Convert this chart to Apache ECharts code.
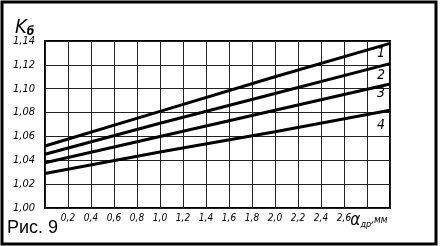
<!DOCTYPE html>
<html><head><meta charset="utf-8">
<script src="https://cdn.jsdelivr.net/npm/echarts@6/dist/echarts.min.js"></script>
<style>html,body{margin:0;padding:0;background:#fff}#c{width:440px;height:246px}</style>
</head><body><div id="c"></div>
<script>
var xValues = [0, 1.0, 2.0, 3.0];
var line1 = [1.052, 1.081, 1.110, 1.138];
var line2 = [1.045, 1.071, 1.096, 1.121];
var line3 = [1.038, 1.060, 1.082, 1.104];
var line4 = [1.029, 1.047, 1.064, 1.082];
var lineNames = ['1', '2', '3', '4'];
var xTickLabels = ['0,2','0,4','0,6','0,8','1,0','1,2','1,4','1,6','1,8','2,0','2,2','2,4','2,6'];
var yTickLabels = ['1,00','1,02','1,04','1,06','1,08','1,10','1,12','1,14'];

var chart = echarts.init(document.getElementById('c'), null, {renderer:'canvas'});
var seriesData = [line1, line2, line3, line4];
var lblFont = 'DejaVu Sans Condensed';
function mk(vals, i) {
  return {
    type: 'line', name: lineNames[i], symbol: 'circle', symbolSize: 0.1, showSymbol: true, silent: true,
    itemStyle: {color: '#000'},
    lineStyle: {color: '#000', width: 3},
    data: vals.map(function (v, k) {
      var d = {value: [xValues[k], v]};
      if (k === vals.length - 1) {
        d.label = {show: true, formatter: lineNames[i], position: 'bottom', distance: [3,5,2,8][i], offset: [-9, 0],
          fontStyle: 'italic', fontFamily: lblFont, fontSize: 14, color: '#000'};
      } else {
        d.label = {show: false};
      }
      return d;
    })
  };
}
chart.setOption({
  animation: false,
  grid: {left: 45, right: 50, top: 41, bottom: 38, show: true, borderColor: '#000', borderWidth: 2},
  xAxis: {
    type: 'value', min: 0, max: 3.0, interval: 0.2,
    axisLine: {show: false}, axisTick: {show: false},
    splitLine: {show: true, lineStyle: {color: '#222', width: 1}},
    axisLabel: {
      margin: 5, color: '#000', fontStyle: 'italic', fontFamily: lblFont, fontSize: 10,
      showMinLabel: true, showMaxLabel: true,
      formatter: function (v) {
        var i = Math.round(v / 0.2);
        if (i >= 1 && i <= xTickLabels.length) return xTickLabels[i - 1];
        if (i === 14) return '{a|α}{s|др}{m|,мм}';
        return '';
      },
      rich: {
        a: {fontSize: 17, fontStyle: 'italic', fontFamily: lblFont, color: '#000', verticalAlign: 'bottom', lineHeight: 16, padding: [0,0,0,4]},
        s: {fontSize: 9, fontStyle: 'italic', fontFamily: lblFont, color: '#000', verticalAlign: 'bottom', lineHeight: 16, padding: [12,0,0,0]},
        m: {fontSize: 10, fontStyle: 'italic', fontFamily: lblFont, color: '#000', verticalAlign: 'bottom', lineHeight: 16, padding: [0,0,4,0]}
      }
    }
  },
  yAxis: {
    type: 'value', min: 1.00, max: 1.14, interval: 0.02,
    axisLine: {show: false}, axisTick: {show: false},
    splitLine: {show: true, lineStyle: {color: '#222', width: 1}},
    axisLabel: {
      margin: 10, color: '#000', fontStyle: 'italic', fontFamily: lblFont, fontSize: 11,
      formatter: function (v) { var i = Math.round((v - 1) / 0.02); return yTickLabels[i] || ''; }
    }
  },
  series: seriesData.map(mk),
  graphic: [
    {type: 'rect', shape: {x: 2, y: 2, width: 434, height: 242}, style: {fill: 'none', stroke: '#000', lineWidth: 3}, silent: true},
    {type: 'text', left: 15, top: 18, silent: true,
      style: {text: '{k|K}{b|б}', rich: {
        k: {fontSize: 20, fontStyle: 'italic', fontFamily: lblFont, fill: '#000'},
        b: {fontSize: 12, fontStyle: 'italic', fontWeight: 'bold', fontFamily: lblFont, fill: '#000', padding: [8,0,0,0]}}}},
    {type: 'text', left: 7, top: 219, silent: true,
      style: {text: 'Рис. 9', fontSize: 18, fontFamily: 'Liberation Sans', fill: '#000'}}
  ]
});
</script></body></html>
